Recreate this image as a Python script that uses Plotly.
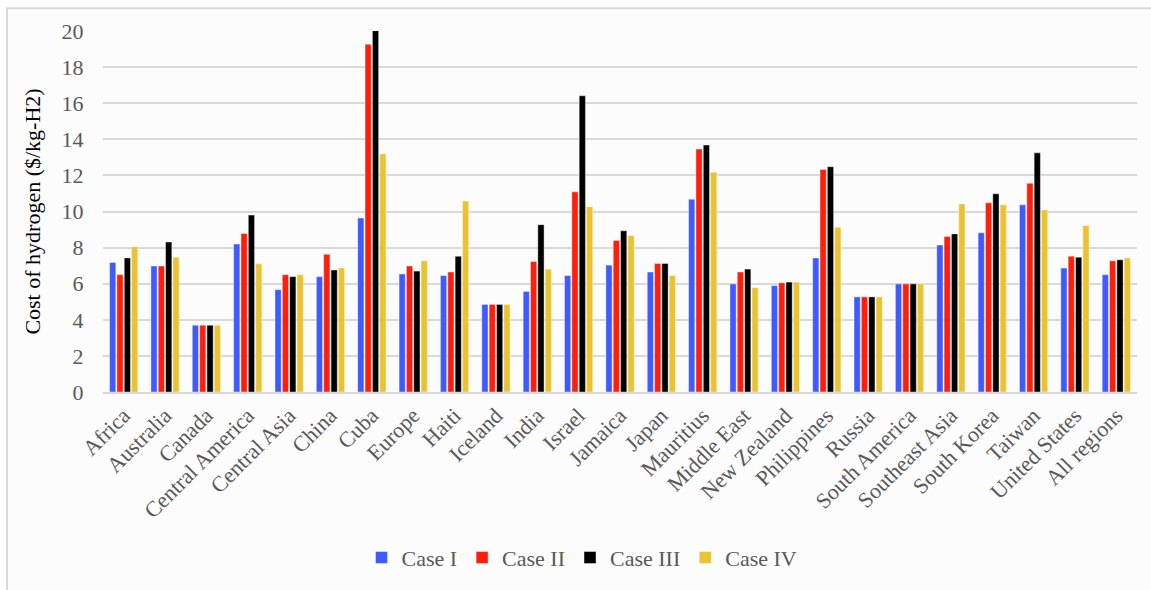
import plotly.graph_objects as go

regions = ["Africa", "Australia", "Canada", "Central America", "Central Asia", "China",
           "Cuba", "Europe", "Haiti", "Iceland", "India", "Israel", "Jamaica", "Japan",
           "Mauritius", "Middle East", "New Zealand", "Philippines", "Russia",
           "South America", "Southeast Asia", "South Korea", "Taiwan", "United States",
           "All regions"]

case_1 = [7.18, 6.98, 3.70, 8.20, 5.67, 6.39, 9.64, 6.54, 6.45, 4.85, 5.57, 6.45, 7.03,
          6.65, 10.68, 5.99, 5.89, 7.43, 5.27, 5.99, 8.14, 8.82, 10.37, 6.87, 6.50]
case_2 = [6.50, 6.98, 3.70, 8.78, 6.50, 7.63, 19.26, 6.98, 6.65, 4.85, 7.23, 11.09, 8.40,
          7.12, 13.46, 6.65, 6.05, 12.33, 5.27, 5.99, 8.62, 10.48, 11.57, 7.52, 7.27]
case_3 = [7.43, 8.31, 3.70, 9.80, 6.39, 6.76, 20.07, 6.70, 7.52, 4.85, 9.27, 16.41, 8.93,
          7.12, 13.68, 6.81, 6.09, 12.48, 5.27, 5.99, 8.76, 10.98, 13.25, 7.47, 7.32]
case_4 = [8.05, 7.47, 3.70, 7.10, 6.50, 6.87, 13.19, 7.27, 10.58, 4.85, 6.81, 10.26, 8.67,
          6.45, 12.17, 5.78, 6.09, 9.13, 5.27, 5.99, 10.42, 10.37, 10.09, 9.22, 7.43]

series = [
    ("Case I", case_1, "#3f5bff"),
    ("Case II", case_2, "#ff1e0c"),
    ("Case III", case_3, "#000000"),
    ("Case IV", case_4, "#ebc232"),
]

y_ticks = list(range(0, 21, 2))

FONT = "Liberation Serif, Times New Roman, serif"
GREY = "#595959"
FS = 22

fig = go.Figure()
for name, vals, color in series:
    fig.add_trace(go.Bar(
        name=name, x=regions, y=vals,
        marker=dict(color=color, line=dict(color="rgba(255,255,255,0.7)", width=0.6)),
    ))

W, H = 1151, 590
L, R, T, B = 103, 14, 31, 193
pw, ph = W - L - R, H - T - B

def px_to_paper_x(px):
    return (px - L) / pw

def px_to_paper_y(py):
    return (H - B - py) / ph

# outer chart frame
fig.add_shape(
    type="rect", xref="paper", yref="paper", layer="below",
    x0=px_to_paper_x(7), x1=px_to_paper_x(1160),
    y0=px_to_paper_y(600), y1=px_to_paper_y(8),
    fillcolor="#fcfcfc", line=dict(color="#d9d9d9", width=2),
)

fig.update_layout(
    width=W, height=H,
    margin=dict(l=L, r=R, t=T, b=B),
    paper_bgcolor="white",
    plot_bgcolor="rgba(0,0,0,0)",
    barmode="group",
    bargap=0.29,
    bargroupgap=0.15,
    font=dict(family=FONT, size=FS, color=GREY),
    showlegend=True,
    legend=dict(
        orientation="h", x=px_to_paper_x(582), xanchor="center",
        y=px_to_paper_y(565), yanchor="middle",
        font=dict(family=FONT, size=FS, color=GREY),
        itemwidth=30, tracegroupgap=0,
        bgcolor="rgba(0,0,0,0)",
    ),
    xaxis=dict(
        tickangle=-45, tickfont=dict(family=FONT, size=FS, color=GREY),
        showgrid=False, showline=True, linecolor="#d9d9d9", linewidth=2,
        ticks="", automargin=False,
    ),
    yaxis=dict(
        range=[0, 20], tickvals=y_ticks, ticktext=[str(v) for v in y_ticks],
        tickfont=dict(family=FONT, size=FS, color=GREY),
        showgrid=True, gridcolor="#d9d9d9", gridwidth=2,
        zeroline=False, showline=False,
        ticks="outside", ticklen=14, tickcolor="rgba(0,0,0,0)",
        title=dict(text="Cost of hydrogen ($/kg-H2)",
                   font=dict(family=FONT, size=FS, color="#000000"), standoff=14),
        automargin=False,
    ),
)

fig.write_html("out.html")
